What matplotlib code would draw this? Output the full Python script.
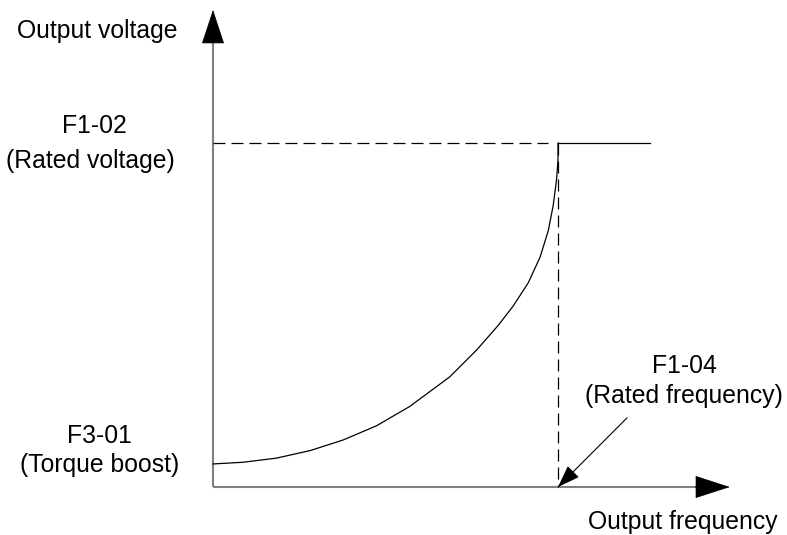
import numpy as np
import matplotlib
matplotlib.use("Agg")
import matplotlib.pyplot as plt

plt.rcParams['font.family'] = ['Liberation Sans', 'DejaVu Sans']

# V/F curve (frequency in Hz, voltage in % of rated)
curve_freq = [0.0, 4.4, 9.2, 14.1, 18.9, 23.7, 28.5, 34.3, 38.2, 41.3,
              43.5, 45.7, 47.4, 48.6, 49.3, 49.8, 50.0, 50.0]
curve_volt = [6.7, 7.2, 8.4, 10.6, 13.7, 17.8, 23.4, 32.0, 39.8, 46.9,
              52.6, 59.4, 66.8, 74.6, 81.8, 89.5, 95.1, 100.0]
rated_freq = 50.0
rated_volt = 100.0
flat_end = 63.3          # end of the flat part above rated frequency
x_axis_end = 74.9
y_axis_end = 138.7

fig = plt.figure(figsize=(7.87, 5.35), dpi=100)
ax = fig.add_axes([0, 0, 1, 1])
ax.set_xlim(-30.87, 83.19)
ax.set_ylim(-13.95, 141.57)
ax.axis('off')

# axes (grey line, black head)
axis_col = '#808080'
ax.plot([0, x_axis_end - 4.8], [0, 0], color=axis_col, lw=1.5, solid_capstyle='butt')
ax.plot([0, 0], [0, y_axis_end - 9.3], color=axis_col, lw=1.5, solid_capstyle='butt')
ax.annotate('', xy=(x_axis_end, 0), xytext=(x_axis_end - 5.0, 0),
            arrowprops=dict(arrowstyle='-|>,head_length=23.5,head_width=7.6',
                            mutation_scale=1, color='black', lw=0.5,
                            shrinkA=0, shrinkB=0))
ax.annotate('', xy=(0, y_axis_end), xytext=(0, y_axis_end - 9.5),
            arrowprops=dict(arrowstyle='-|>,head_length=23,head_width=7.6',
                            mutation_scale=1, color='black', lw=0.5,
                            shrinkA=0, shrinkB=0))

# dashed guides
ax.plot([0, rated_freq - 1.5], [rated_volt, rated_volt], color='black', lw=0.9,
        dashes=(9.6, 4.8))
ax.plot([rated_freq, rated_freq], [rated_volt, 0], color='black', lw=0.9,
        dashes=(9.6, 4.8))

# curve and flat part
ax.plot(curve_freq, curve_volt, color='black', lw=0.9, solid_joinstyle='round')
ax.plot([rated_freq, flat_end], [rated_volt, rated_volt], color='black', lw=0.9)

# annotation arrow to rated frequency
ax.annotate('', xy=(rated_freq, 0), xytext=(60.0, 20.1),
            arrowprops=dict(arrowstyle='-|>,head_length=14,head_width=5',
                            mutation_scale=1, color='black', lw=0.8,
                            shrinkA=0, shrinkB=0))

fs = 17.8
txt = dict(fontsize=fs, ha='center', va='center', color='black')
ax.text(-16.8, 132.5, 'Output voltage', **txt)
ax.text(-17.2, 105.0, 'F1-02', **txt)
ax.text(-17.7, 94.8, '(Rated voltage)', **txt)
ax.text(-16.5, 14.9, 'F3-01', **txt)
ax.text(-16.5, 6.5, '(Torque boost)', **txt)
ax.text(68.3, 35.1, 'F1-04', **txt)
ax.text(68.3, 26.4, '(Rated frequency)', **txt)
ax.text(68.1, -10.2, 'Output frequency', **txt)

fig.savefig('out.png', dpi=100)
